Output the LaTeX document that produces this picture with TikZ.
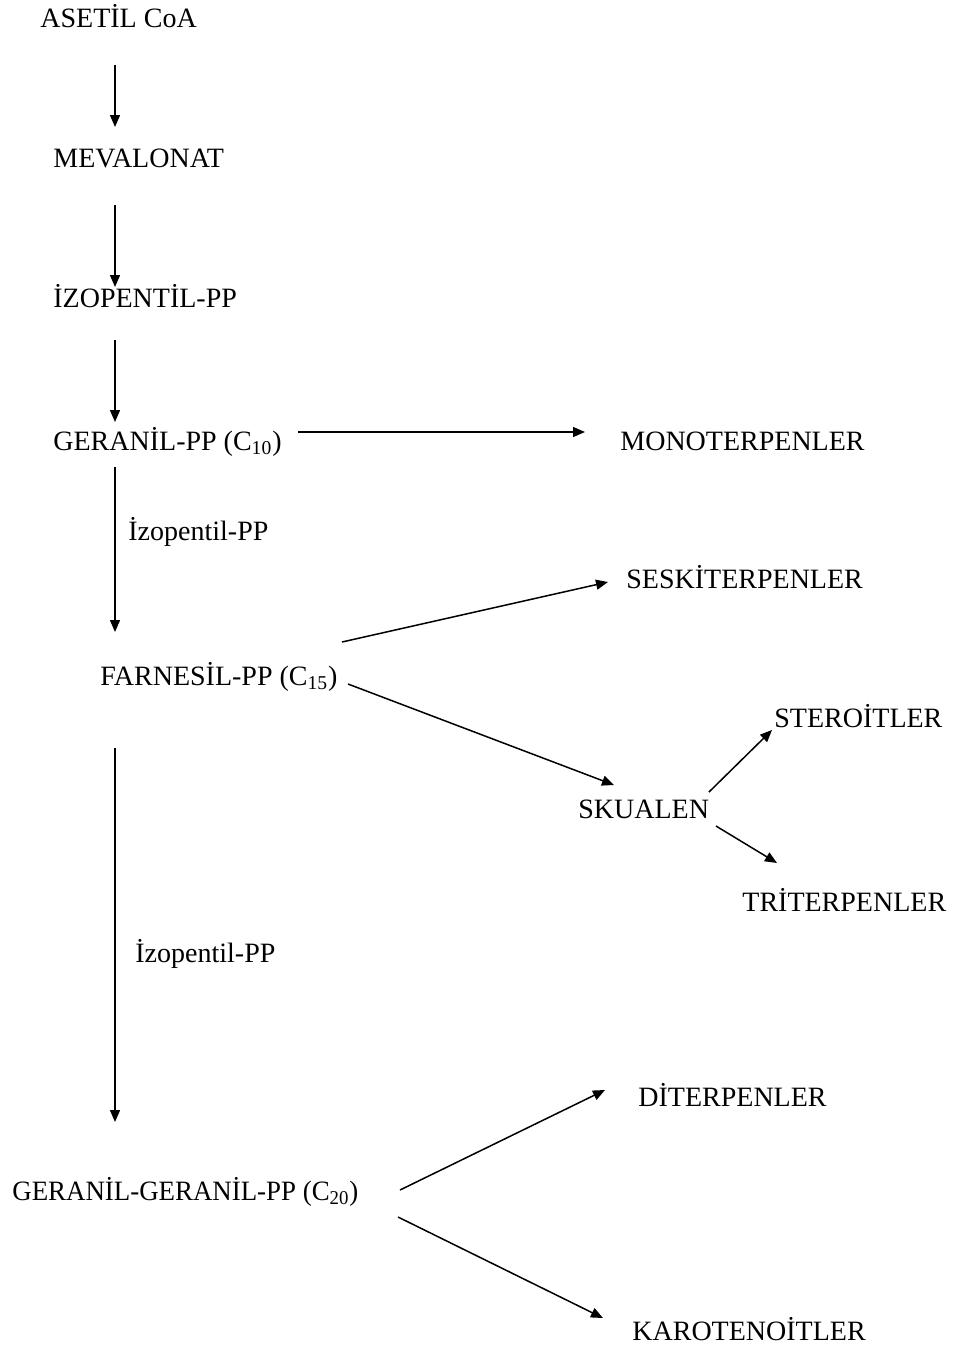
\documentclass[tikz,border=0pt]{standalone}
\usepackage{fontspec}
\setmainfont{Liberation Serif}
\usetikzlibrary{arrows.meta}
\begin{document}
\begin{tikzpicture}[x=0.5pt,y=-0.5pt,
  lbl/.style={anchor=base west,inner sep=0pt,font=\fontsize{14pt}{17pt}\selectfont},
  arr/.style={line width=0.75pt,-{Triangle[length=6pt,width=5pt]}}]
\useasboundingbox (0,0) rectangle (954,1346);
\node[lbl] (asetil) at (40,27) {ASETİL CoA};
\node[lbl] (meva) at (53,167) {MEVALONAT};
\node[lbl] (izo) at (53,307) {İZOPENTİL-PP};
\node[lbl] (geranil) at (53,450) {GERANİL-PP (C\textsubscript{10})};
\node[lbl] (mono) at (620,450) {MONOTERPENLER};
\node[lbl] (izoa) at (128,540) {İzopentil-PP};
\node[lbl] (farn) at (100,685) {FARNESİL-PP (C\textsubscript{15})};
\node[lbl] (seski) at (626,588) {SESKİTERPENLER};
\node[lbl] (sterol) at (774,727) {STEROİTLER};
\node[lbl] (skual) at (578,818) {SKUALEN};
\node[lbl] (trit) at (742,911) {TRİTERPENLER};
\node[lbl] (izob) at (135,962) {İzopentil-PP};
\node[lbl] (ggpp) at (12,1200) {\scalebox{0.96}[1]{GERANİL-GERANİL-PP (C\textsubscript{20})}};
\node[lbl] (dit) at (638,1106) {DİTERPENLER};
\node[lbl] (karo) at (632,1340) {KAROTENOİTLER};

\draw[arr] ([shift={(75,38)}]asetil.base west) -- ([shift={(62,-40)}]meva.base west);
\draw[arr] ([shift={(62,38)}]meva.base west) -- ([shift={(62,-20)}]izo.base west);
\draw[arr] ([shift={(62,33)}]izo.base west) -- ([shift={(62,-28)}]geranil.base west);
\draw[arr] ([shift={(245,-18)}]geranil.base west) -- ([shift={(-35,-18)}]mono.base west);
\draw[arr] ([shift={(62,17)}]geranil.base west) -- ([shift={(15,-53)}]farn.base west);
\draw[arr] ([shift={(242,-43)}]farn.base west) -- ([shift={(-18,-6)}]seski.base west);
\draw[arr] ([shift={(248,-1)}]farn.base west) -- ([shift={(36,-33)}]skual.base west);
\draw[arr] ([shift={(131,-26)}]skual.base west) -- ([shift={(-2,3)}]sterol.base west);
\draw[arr] ([shift={(138,8)}]skual.base west) -- ([shift={(35,-48)}]trit.base west);
\draw[arr] ([shift={(15,63)}]farn.base west) -- ([shift={(103,-78)}]ggpp.base west);
\draw[arr] ([shift={(388,-10)}]ggpp.base west) -- ([shift={(-33,-16)}]dit.base west);
\draw[arr] ([shift={(386,17)}]ggpp.base west) -- ([shift={(-29,-22)}]karo.base west);
\end{tikzpicture}
\end{document}
